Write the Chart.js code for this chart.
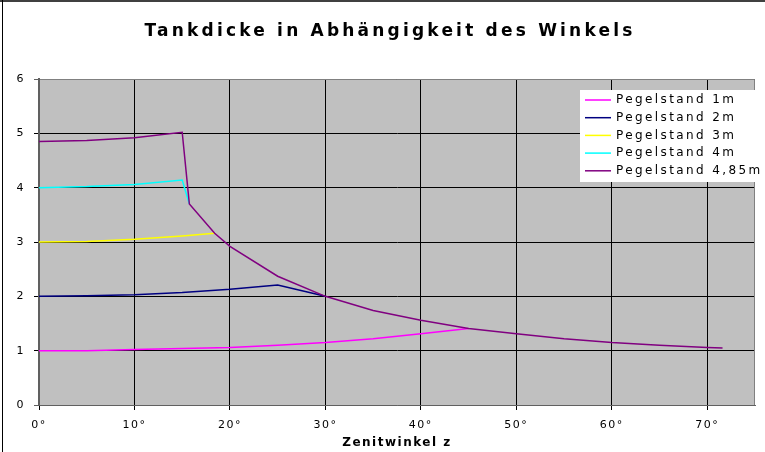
<!DOCTYPE html>
<html>
<head>
<meta charset="utf-8">
<script src="https://cdn.jsdelivr.net/npm/chart.js@4.4.0/dist/chart.umd.min.js"></script>
<style>
  html, body { margin: 0; padding: 0; background: #fff; }
  #wrap { width: 765px; height: 452px; position: relative; }
</style>
</head>
<body>
<div id="wrap"><canvas id="c" width="765" height="452"></canvas></div>
<script>
// Werte (Zenitwinkel in Grad, Tankdicke)
const seriesNames = ['Pegelstand 1m', 'Pegelstand 2m', 'Pegelstand 3m', 'Pegelstand 4m', 'Pegelstand 4,85m'];
const seriesColors = ['#ff00ff', '#000080', '#ffff00', '#00ffff', '#800080'];

const angles1 = [0, 5, 10, 15, 20, 25, 30, 35, 40, 45];
const thick1  = [1.00, 1.00, 1.02, 1.04, 1.06, 1.10, 1.15, 1.22, 1.31, 1.41];

const angles2 = [0, 5, 10, 15, 20, 25, 30];
const thick2  = [2.00, 2.01, 2.03, 2.07, 2.13, 2.21, 2.00];

const angles3 = [0, 5, 10, 15, 18.4];
const thick3  = [3.00, 3.01, 3.05, 3.11, 3.16];

const angles4 = [0, 5, 10, 15, 15.75];
const thick4  = [4.00, 4.02, 4.06, 4.14, 3.70];

const angles5 = [0, 5, 10, 15, 15.75, 18.4, 20, 25, 30, 35, 40, 45, 50, 55, 60, 65, 70, 71.6];
const thick5  = [4.85, 4.87, 4.92, 5.02, 3.70, 3.16, 2.92, 2.37, 2.00, 1.74, 1.56, 1.41, 1.31, 1.22, 1.15, 1.10, 1.06, 1.05];

const xTicks = [0, 10, 20, 30, 40, 50, 60, 70];

const allAngles = [angles1, angles2, angles3, angles4, angles5];
const allThick = [thick1, thick2, thick3, thick4, thick5];

const FONT = '"DejaVu Sans", Verdana, sans-serif';

// Hintergrund, Rahmen, Titel und Legende
const decoPlugin = {
    id: 'deco',
    beforeDraw: (chart) => {
        const { ctx, chartArea: a } = chart;
        ctx.save();
        ctx.fillStyle = '#c0c0c0';
        ctx.fillRect(a.left, a.top, a.right - a.left, a.bottom - a.top);
        ctx.restore();
        ctx.letterSpacing = '1.5px';
    },
    beforeDatasetsDraw: (chart) => {
        const { ctx, chartArea: a } = chart;
        ctx.save();
        ctx.letterSpacing = '0px';
        ctx.strokeStyle = '#808080';
        ctx.lineWidth = 1;
        ctx.beginPath();
        ctx.moveTo(a.left, a.top + 0.5);
        ctx.lineTo(a.right - 0.5, a.top + 0.5);
        ctx.lineTo(a.right - 0.5, a.bottom);
        ctx.stroke();
        ctx.lineWidth = 2;
        ctx.strokeStyle = '#606060';
        ctx.beginPath();
        ctx.moveTo(a.left, a.top);
        ctx.lineTo(a.left, a.bottom);
        ctx.stroke();
        ctx.restore();
    },
    afterDraw: (chart) => {
        const { ctx } = chart;
        ctx.save();
        // äußerer Rahmen
        ctx.letterSpacing = '0px';
        ctx.fillStyle = '#404040';
        ctx.fillRect(0, 0, 765, 2);
        ctx.fillStyle = '#000';
        ctx.fillRect(2, 0, 1, 452);

        // Titel
        ctx.letterSpacing = '3.2px';
        ctx.font = 'bold 17px ' + FONT;
        ctx.fillStyle = '#000';
        ctx.textBaseline = 'middle';
        ctx.textAlign = 'center';
        ctx.fillText('Tankdicke in Abhängigkeit des Winkels', 390, 32);

        // Legende
        ctx.fillStyle = '#fff';
        ctx.fillRect(580, 90, 185, 92);
        ctx.font = '12px ' + FONT;
        ctx.letterSpacing = '2.4px';
        ctx.textAlign = 'left';
        seriesNames.forEach((name, i) => {
            const y = 100 + i * 17.7;
            ctx.strokeStyle = seriesColors[i];
            ctx.lineWidth = 1.5;
            ctx.beginPath();
            ctx.moveTo(585, y);
            ctx.lineTo(611, y);
            ctx.stroke();
            ctx.fillStyle = '#000';
            ctx.fillText(name, 616, y);
        });
        ctx.restore();
    }
};

const datasets = seriesNames.map((name, i) => ({
    label: name,
    data: allAngles[i].map((x, j) => ({ x: x, y: allThick[i][j] })),
    borderColor: seriesColors[i],
    backgroundColor: seriesColors[i],
    borderWidth: 1.5,
    pointRadius: 0,
    showLine: true,
    tension: 0,
    order: seriesNames.length - i
}));

new Chart(document.getElementById('c').getContext('2d'), {
    type: 'scatter',
    data: { datasets: datasets },
    options: {
        responsive: false,
        animation: false,
        layout: { padding: { top: 79, right: 10, left: 0, bottom: 0 } },
        plugins: {
            legend: { display: false },
            title: { display: false },
            tooltip: { enabled: false }
        },
        scales: {
            x: {
                type: 'linear',
                min: 0,
                max: 75,
                afterFit: (s) => { s.height = 47; },
                afterBuildTicks: (s) => { s.ticks = xTicks.map(v => ({ value: v })); },
                grid: { color: '#000', lineWidth: 1, tickLength: 5, drawOnChartArea: true },
                border: { color: '#606060', width: 1 },
                ticks: {
                    color: '#000',
                    font: { family: FONT, size: 11 },
                    padding: 9,
                    maxRotation: 0,
                    callback: (v) => v + '°'
                },
                title: {
                    display: true,
                    text: 'Zenitwinkel z',
                    color: '#000',
                    font: { family: FONT, size: 12, weight: 'bold' },
                    padding: { top: 0, bottom: 2 }
                }
            },
            y: {
                type: 'linear',
                min: 0,
                max: 6,
                afterFit: (s) => { s.width = 39; },
                grid: {
                    color: (c) => (c.tick.value === 0 || c.tick.value === 6) ? '#606060' : '#000',
                    lineWidth: 1,
                    tickLength: 5
                },
                border: { color: '#606060', width: 2 },
                ticks: {
                    stepSize: 1,
                    color: '#000',
                    font: { family: FONT, size: 11 },
                    padding: 9
                }
            }
        }
    },
    plugins: [decoPlugin]
});
</script>
</body>
</html>
